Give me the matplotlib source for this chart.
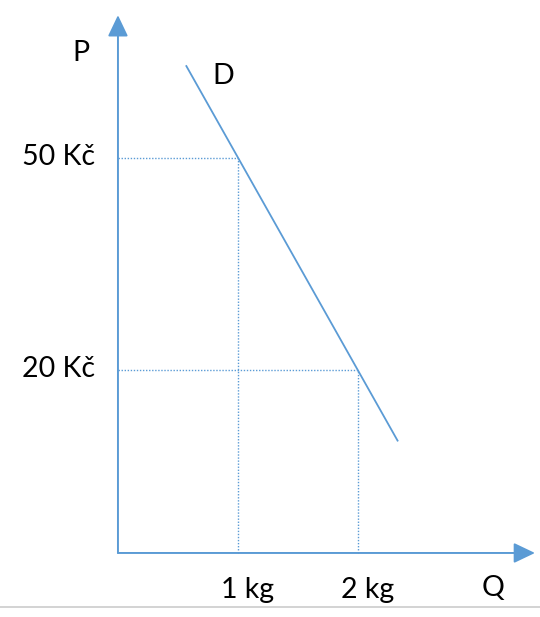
import matplotlib
matplotlib.use("Agg")
import matplotlib.pyplot as plt
from matplotlib.lines import Line2D

# schematic demand diagram (price in Kč, quantity in kg)
demand_q = [0.57, 2.33]
demand_p = [63, 10]
point_q = [1, 2]
point_p = [50, 20]
q_labels = ["1 kg", "2 kg"]
p_labels = ["50 Kč", "20 Kč"]

blue = "#5B9BD5"
plt.rcParams['font.family'] = ['Lato', 'DejaVu Sans']

fig = plt.figure(figsize=(5.4, 6.17), dpi=100)
ax = fig.add_axes([0, 0, 1, 1])
ax.set_xlim(-0.983, 3.517)
ax.set_ylim(-14.96, 72.35)
ax.axis('off')

x0, y0 = 0, -5.9  # where the axes cross

# axes with arrow heads
arrow = dict(arrowstyle='-|>,head_width=0.62,head_length=1.3', color=blue, lw=1.4,
             shrinkA=0, shrinkB=0)
ax.annotate('', xy=(x0, 70.2), xytext=(x0, y0), arrowprops=arrow)
ax.annotate('', xy=(3.475, y0), xytext=(x0, y0), arrowprops=arrow)

# demand curve
ax.plot(demand_q, demand_p, color=blue, lw=1.3)

# dotted guides
for q, p in zip(point_q, point_p):
    ax.plot([x0, q], [p, p], color=blue, lw=1.0, ls=(0, (1, 1.2)))
    ax.plot([q, q], [y0, p], color=blue, lw=1.0, ls=(0, (1, 1.2)))

fs = 20.5
for q, lab in zip(point_q, q_labels):
    ax.text(q + 0.08, y0 - 5.3, lab, ha='center', va='center', fontsize=fs, color='black')
for p, lab in zip(point_p, p_labels):
    ax.text(-0.19, p + 0.1, lab, ha='right', va='center', fontsize=fs, color='black')

ax.text(-0.31, 64.8, "P", ha='center', va='center', fontsize=fs)
ax.text(3.13, y0 - 5.0, "Q", ha='center', va='center', fontsize=fs)
ax.text(0.88, 61.6, "D", ha='center', va='center', fontsize=fs)

# faint border line at the bottom of the screenshot
fig.add_artist(Line2D([0, 1], [1 - 607 / 617] * 2, color='#cccccc', lw=1.2))

fig.savefig("out.png", dpi=100)
